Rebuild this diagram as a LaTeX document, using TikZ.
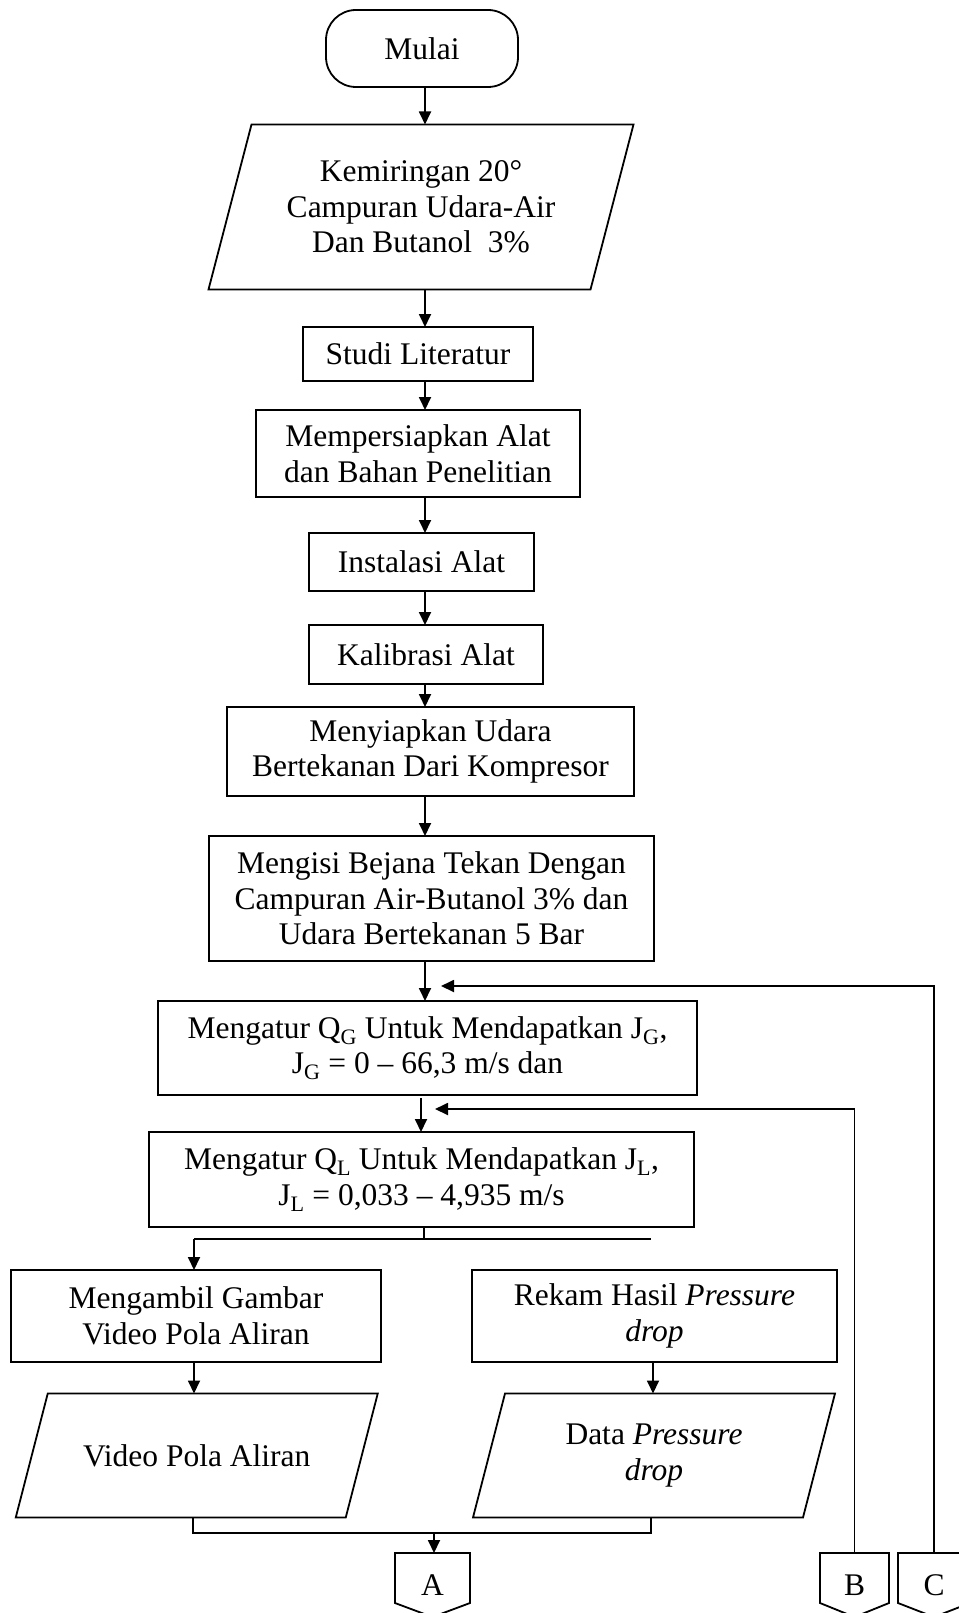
\documentclass[tikz,border=0pt]{standalone}
\usepackage{fontspec}
\setmainfont{Liberation Serif}
\usetikzlibrary{arrows.meta,calc}
\begin{document}
\begin{tikzpicture}[x=1pt,y=-1pt,
  every node/.style={font=\fontsize{31.5}{35.5}\selectfont, align=center, inner sep=0pt, outer sep=0pt},
  box/.style={draw, line width=1.8pt, rectangle},
  ghost/.style={rectangle},
  ln/.style={line width=1.8pt, line join=miter},
  arr/.style={line width=1.8pt, -{Triangle[length=13pt,width=12pt]}},
  term/.style={draw, line width=1.8pt, rounded corners=30pt, rectangle},
]
\useasboundingbox (0,0) rectangle (958,1613);
\fill[white] (0,0) rectangle (958,1613);

% axis coordinates for the main column
\coordinate (ax) at (425,0);
\coordinate (ax2) at (421,0);

% main column
\node[term, minimum width=192pt, minimum height=77pt] (mulai) at (422,48.5) {Mulai};

\node[ghost, minimum width=382pt, minimum height=165pt] (param) at (421,207) {Kemiringan 20°\\Campuran Udara-Air\\Dan Butanol\ \ 3\%};
\draw[ln] ([xshift=21.5pt]param.north west) -- ([xshift=21.5pt]param.north east) -- ([xshift=-21.5pt]param.south east) -- ([xshift=-21.5pt]param.south west) -- cycle;

\node[box, minimum width=230pt, minimum height=54pt] (studi) at (418,354) {Studi Literatur};
\node[box, minimum width=324pt, minimum height=87pt] (alat) at (418,453.5) {Mempersiapkan Alat\\dan Bahan Penelitian};
\node[box, minimum width=225pt, minimum height=58pt] (instal) at (421.5,562) {Instalasi Alat};
\node[box, minimum width=234pt, minimum height=59pt] (kalib) at (426,654.5) {Kalibrasi Alat};
\node[box, minimum width=407pt, minimum height=89pt] (udara) at (430.5,751.5) {Menyiapkan Udara\\Bertekanan Dari Kompresor};
\node[box, minimum width=445pt, minimum height=125pt] (isi) at (431.5,898.5) {Mengisi Bejana Tekan Dengan\\Campuran Air-Butanol 3\% dan\\Udara Bertekanan 5 Bar};
\node[box, minimum width=539pt, minimum height=94pt] (qg) at (427.5,1048) {Mengatur Q\textsubscript{G} Untuk Mendapatkan J\textsubscript{G},\\J\textsubscript{G} = 0 – 66,3 m/s dan};
\node[box, minimum width=545pt, minimum height=95pt] (ql) at (421.5,1179.5) {Mengatur Q\textsubscript{L} Untuk Mendapatkan J\textsubscript{L},\\J\textsubscript{L} = 0,033 – 4,935 m/s};

% two branches
\node[box, minimum width=370pt, minimum height=92pt] (ambil) at (196,1316) {Mengambil Gambar\\Video Pola Aliran};
\node[box, minimum width=365pt, minimum height=92pt] (rekam) at (654.5,1316) {Rekam Hasil \textit{Pressure}\\\textit{drop}};

\node[ghost, minimum width=330pt, minimum height=124pt] (video) at (196.75,1455.5) {Video Pola Aliran};
\draw[ln] ([xshift=16pt]video.north west) -- ([xshift=16pt]video.north east) -- ([xshift=-16pt]video.south east) -- ([xshift=-16pt]video.south west) -- cycle;

\node[ghost, minimum width=330pt, minimum height=124pt] (data) at (654,1455.5) {Data \textit{Pressure}\\\textit{drop}};
\draw[ln] ([xshift=16pt]data.north west) -- ([xshift=16pt]data.north east) -- ([xshift=-16pt]data.south east) -- ([xshift=-16pt]data.south west) -- cycle;

% off-page connectors
\node[ghost, minimum width=75pt, minimum height=64pt] (A) at (432.5,1585) {A};
\draw[ln] (A.north west) -- (A.north east) -- ($(A.south east)+(0,-14)$) -- (A.south) -- ($(A.south west)+(0,-14)$) -- cycle;
\node[ghost, minimum width=69pt, minimum height=64pt] (B) at (854.5,1585) {B};
\draw[ln] (B.north west) -- (B.north east) -- ($(B.south east)+(0,-14)$) -- (B.south) -- ($(B.south west)+(0,-14)$) -- cycle;
\node[ghost, minimum width=72pt, minimum height=64pt] (C) at (934,1585) {C};
\draw[ln] (C.north west) -- (C.north east) -- ($(C.south east)+(0,-14)$) -- (C.south) -- ($(C.south west)+(0,-14)$) -- cycle;

% main arrows
\draw[arr] (mulai.south -| ax) -- (param.north -| ax);
\draw[arr] (param.south -| ax) -- (studi.north -| ax);
\draw[arr] (studi.south -| ax) -- (alat.north -| ax);
\draw[arr] (alat.south -| ax) -- (instal.north -| ax);
\draw[arr] (instal.south -| ax) -- (kalib.north -| ax);
\draw[arr] (kalib.south -| ax) -- (udara.north -| ax);
\draw[arr] (udara.south -| ax) -- (isi.north -| ax);
\draw[arr] (isi.south -| ax) -- (qg.north -| ax);
\draw[arr] ([yshift=-3pt]qg.south -| ax2) -- (ql.north -| ax2);

% feedback loops
\coordinate (fbC) at (441,986);
\coordinate (fbB) at (435,1109);
\draw[arr] (C.north) |- (fbC);
\draw[arr] (B.north) |- (fbB);

% split
\coordinate (sp) at (424,1239);
\coordinate (spL) at (194,1239);
\coordinate (spR) at (651,1239);
\draw[ln] (ql.south -| sp) -- (sp);
\draw[ln] (spL) -- (spR);
\draw[arr] (spL) -- (ambil.north -| spL);
\draw[arr] (ambil.south -| spL) -- (video.north -| spL);
\coordinate (rx) at (653,0);
\draw[arr] (rekam.south -| rx) -- (data.north -| rx);

% merge
\coordinate (mL) at (193,1533);
\coordinate (mR) at (651,1533);
\coordinate (mA) at (434,1533);
\draw[ln] (video.south -| mL) |- (mR) -- (data.south -| mR);
\draw[arr] (mA) -- (A.north -| mA);
\end{tikzpicture}
\end{document}
